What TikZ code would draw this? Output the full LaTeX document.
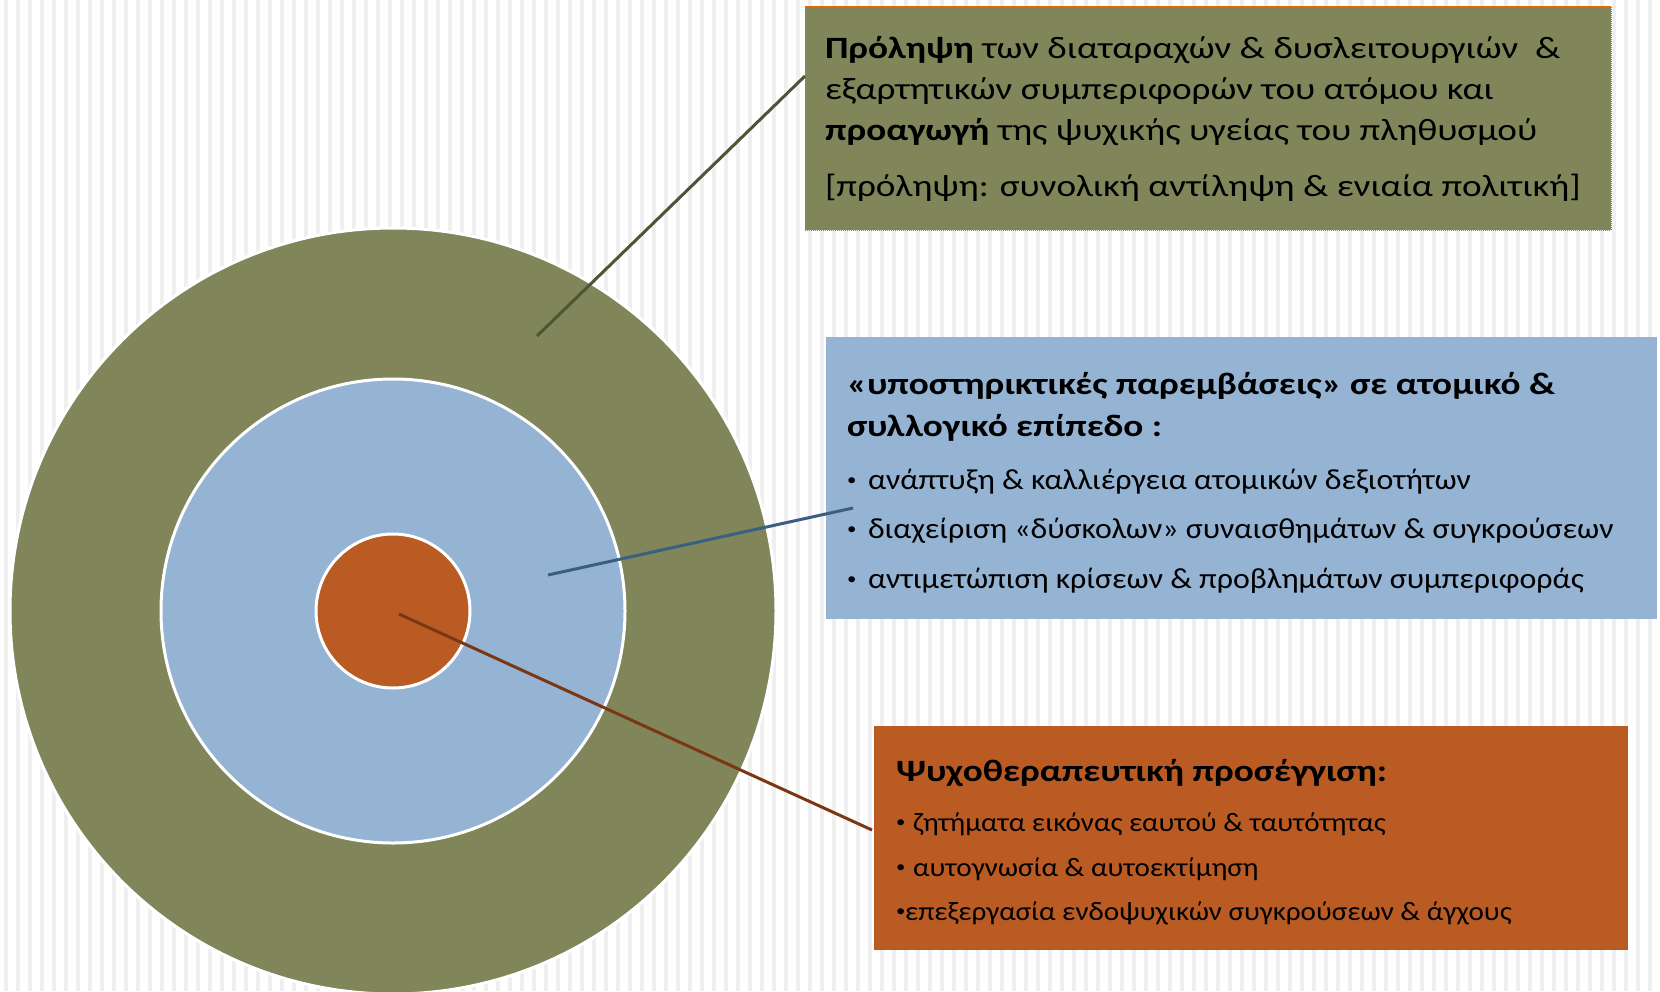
\documentclass[tikz,border=0pt]{standalone}
\usepackage{fontspec}
\setmainfont{Carlito}
\newfontfamily\widefont{Carlito}[FakeStretch=1.2]
\newfontfamily\itemfont{Carlito}[FakeStretch=1.1]
\definecolor{olivebox}{HTML}{80865A}
\definecolor{bluebox}{HTML}{95B3D3}
\definecolor{orangebox}{HTML}{BA5B23}
\definecolor{stripe}{HTML}{EFEFEF}
\definecolor{oliveline}{HTML}{4F5436}
\definecolor{blueline}{HTML}{3A5F80}
\definecolor{orangeline}{HTML}{7A3712}
\definecolor{dotorange}{HTML}{E46C0A}
\newcommand{\mybul}[1]{\makebox[#1][l]{\raisebox{4pt}{\fontsize{17}{17}\selectfont •}}}
\begin{document}
\begin{tikzpicture}[x=1pt,y=-1pt,
  ring/.style={circle, draw=white, line width=3pt, inner sep=0pt, outer sep=0pt},
  panel/.style={rectangle, anchor=north west, inner sep=0pt, outer sep=0pt},
  txt/.style={anchor=base west, inner sep=0pt, outer sep=0pt, text=black},
  gfont/.style={font=\widefont\fontsize{31}{37}\selectfont},
  btitle/.style={font=\widefont\fontsize{31}{37}\selectfont\bfseries},
  bitem/.style={font=\itemfont\fontsize{29}{34}\selectfont},
  otitle/.style={font=\widefont\fontsize{31}{37}\selectfont\bfseries},
  oitem/.style={font=\itemfont\fontsize{26.5}{31}\selectfont},
  conn/.style={line width=3pt}]
\useasboundingbox (0,0) rectangle (1660,991);
\clip (0,0) rectangle (1660,991);
\fill[white] (0,0) rectangle (1660,991);
\foreach \i in {0,...,138} \fill[stripe] ({\i*12+4},0) rectangle ({\i*12+8},991);

% target circles
\node[ring, fill=olivebox, minimum size=766pt] (outer) at (393,611) {};
\node[ring, fill=bluebox, minimum size=464pt] (middle) at (393,611) {};
\node[ring, fill=orangebox, minimum size=154pt] (inner) at (393,611) {};

% panels
\node[panel, fill=olivebox, draw=dotorange, densely dotted, line width=1pt,
      minimum width=806pt, minimum height=224pt] (gbox) at (805,6) {};
\node[panel, fill=bluebox, minimum width=831pt, minimum height=282pt] (bbox) at (826,337) {};
\node[panel, fill=orangebox, minimum width=754pt, minimum height=224pt] (obox) at (874,726) {};

% connectors
\draw[conn, oliveline] ([xshift=144pt,yshift=275pt]outer.center) -- ([yshift=-70pt]gbox.north west);
\draw[conn, blueline] ([xshift=155pt,yshift=36pt]middle.center) -- ([xshift=27pt,yshift=-171pt]bbox.north west);
\draw[conn, orangeline] ([xshift=6pt,yshift=-3pt]inner.center) -- ([xshift=-2pt,yshift=-104pt]obox.north west);

% green panel text
\node[txt, gfont] (g1) at (825,58) {\textbf{Πρόληψη} των διαταραχών \& δυσλειτουργιών~~\&};
\node[txt, gfont] (g2) at (825,99) {εξαρτητικών συμπεριφορών του ατόμου και};
\node[txt, gfont] (g3) at (825,140) {\textbf{προαγωγή} της ψυχικής υγείας του πληθυσμού};
\node[txt, gfont] (g4) at (825,196) {[πρόληψη: συνολική αντίληψη \& ενιαία πολιτική]};

% blue panel text
\node[txt, btitle] (b1) at (847,394) {«υποστηρικτικές παρεμβάσεις» σε ατομικό \&};
\node[txt, btitle] (b2) at (847,436) {συλλογικό επίπεδο :};
\node[txt, bitem] (b3) at (847,489) {\mybul{21pt}ανάπτυξη \& καλλιέργεια ατομικών δεξιοτήτων};
\node[txt, bitem] (b4) at (847,538) {\mybul{21pt}διαχείριση «δύσκολων» συναισθημάτων \& συγκρούσεων};
\node[txt, bitem] (b5) at (847,588) {\mybul{21pt}αντιμετώπιση κρίσεων \& προβλημάτων συμπεριφοράς};

% orange panel text
\node[txt, otitle] (o1) at (896,781) {Ψυχοθεραπευτική προσέγγιση:};
\node[txt, oitem] (o2) at (896,831) {\mybul{17pt}ζητήματα εικόνας εαυτού \& ταυτότητας};
\node[txt, oitem] (o3) at (896,876) {\mybul{17pt}αυτογνωσία \& αυτοεκτίμηση};
\node[txt, oitem] (o4) at (896,920) {\mybul{9pt}επεξεργασία ενδοψυχικών συγκρούσεων \& άγχους};
\end{tikzpicture}
\end{document}
